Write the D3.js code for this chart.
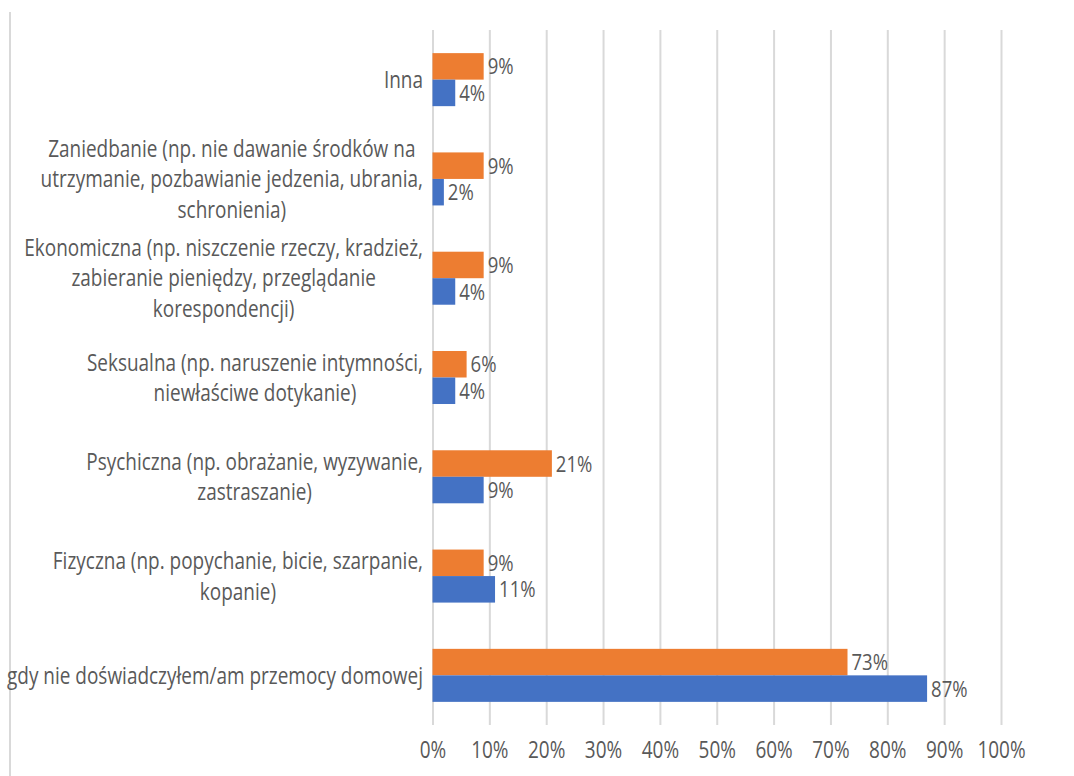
<!DOCTYPE html>
<html>
<head>
<meta charset="utf-8">
<script src="https://cdn.jsdelivr.net/npm/d3@7"></script>
<style>
  body { margin: 0; background: #fff; }
  svg { display: block; }
  text { font-family: "Open Sans", "Noto Sans", sans-serif; fill: #595959; }
</style>
</head>
<body>
<svg id="chart"></svg>
<script>
// kategorie (od góry do dołu), każda jako lista linii
const categories = [
    ['Inna'],
    ['Zaniedbanie (np. nie dawanie środków na', 'utrzymanie, pozbawianie jedzenia, ubrania,', 'schronienia)'],
    ['Ekonomiczna (np. niszczenie rzeczy, kradzież,', 'zabieranie pieniędzy, przeglądanie', 'korespondencji)'],
    ['Seksualna (np. naruszenie intymności,', 'niewłaściwe dotykanie)'],
    ['Psychiczna (np. obrażanie, wyzywanie,', 'zastraszanie)'],
    ['Fizyczna (np. popychanie, bicie, szarpanie,', 'kopanie)'],
    ['gdy nie doświadczyłem/am przemocy domowej']
];
const orangeValues = [9, 9, 9, 6, 21, 9, 73];
const blueValues = [4, 2, 4, 4, 9, 11, 87];
const xTicks = [0, 10, 20, 30, 40, 50, 60, 70, 80, 90, 100];

const width = 1074, height = 776;
const svg = d3.select('#chart').attr('width', width).attr('height', height);

const x = d3.scaleLinear().domain([0, 100]).range([432.5, 1001]);
const y = d3.scaleBand()
    .domain(d3.range(categories.length))
    .range([30, 725])
    .paddingInner(0.466)
    .paddingOuter(0.233);
const ySub = d3.scaleBand().domain(['orange', 'blue']).range([0, y.bandwidth()]);

// czcionka w oryginale jest wąska - ściskamy tekst w poziomie
const probe = svg.append('text').attr('font-size', 23).text('gdy nie doświadczyłem/am przemocy domowej');
const sx = Math.min(1, 416 / probe.node().getComputedTextLength());
probe.remove();
const squeeze = ax => `translate(${ax},0) scale(${sx},1) translate(${-ax},0)`;

// linia z lewej strony
svg.append('line')
    .attr('x1', 10).attr('x2', 10)
    .attr('y1', 12).attr('y2', height)
    .attr('stroke', '#d9d9d9').attr('stroke-width', 2);

// siatka + oś X
const axis = svg.append('g')
    .attr('transform', 'translate(0,725)')
    .call(d3.axisBottom(x).tickValues(xTicks).tickSize(-695).tickPadding(17).tickFormat(d => d + '%'));
axis.select('.domain').remove();
axis.selectAll('.tick line').attr('stroke', '#d9d9d9').attr('stroke-width', 2);
axis.selectAll('.tick text')
    .attr('font-size', 23)
    .attr('transform', squeeze(0))
    .style('fill', '#595959');

// słupki
const series = [
    { key: 'orange', values: orangeValues, color: '#ED7D31' },
    { key: 'blue', values: blueValues, color: '#4472C4' }
];

series.forEach(s => {
    const g = svg.append('g');
    g.selectAll('rect')
        .data(s.values)
        .enter()
        .append('rect')
        .attr('x', x(0))
        .attr('y', (d, i) => y(i) + ySub(s.key))
        .attr('width', d => x(d) - x(0))
        .attr('height', ySub.bandwidth())
        .attr('fill', s.color);

    g.selectAll('text')
        .data(s.values)
        .enter()
        .append('text')
        .attr('x', d => x(d) + 4)
        .attr('y', (d, i) => y(i) + ySub(s.key) + ySub.bandwidth() / 2)
        .attr('dy', '0.36em')
        .attr('font-size', 22.5)
        .attr('transform', d => squeeze(x(d) + 4))
        .text(d => d + '%');
});

// etykiety kategorii (wyśrodkowane wiersze, blok wyrównany do prawej)
const lineH = 30.5;
const labels = svg.append('g');
categories.forEach((lines, i) => {
    const cy = y(i) + y.bandwidth() / 2;
    const t = labels.append('text')
        .attr('font-size', 23)
        .attr('text-anchor', 'middle');
    lines.forEach((ln, j) => {
        t.append('tspan')
            .attr('y', cy + (j - (lines.length - 1) / 2) * lineH)
            .attr('dy', '0.36em')
            .text(ln);
    });
    let maxW = 0;
    t.selectAll('tspan').each(function () {
        maxW = Math.max(maxW, this.getComputedTextLength());
    });
    const cx = 423 - maxW * sx / 2;
    t.selectAll('tspan').attr('x', cx);
    t.attr('transform', squeeze(cx));
});
</script>
</body>
</html>
